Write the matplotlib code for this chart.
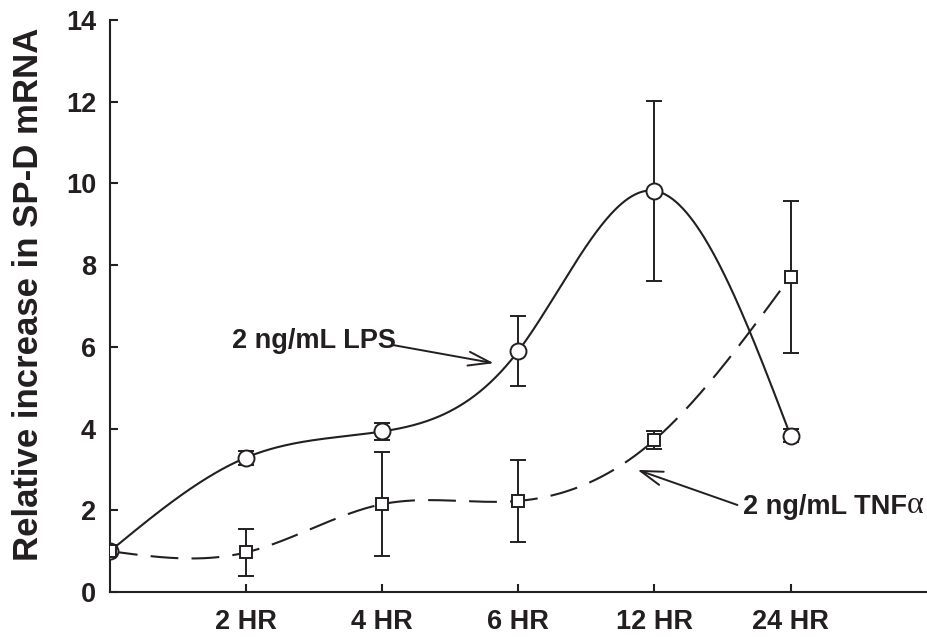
import numpy as np
import matplotlib
matplotlib.use("Agg")
import matplotlib.pyplot as plt

plt.rcParams['font.family'] = ['Liberation Sans', 'DejaVu Sans']
plt.rcParams['lines.scale_dashes'] = False

# ---- data ----
time_labels = ["2 HR", "4 HR", "6 HR", "12 HR", "24 HR"]
x_pos = [0, 1, 2, 3, 4, 5]
lps_mean = [1.0, 3.29, 3.93, 5.90, 9.82, 3.83]
lps_err = [0.0, 0.17, 0.20, 0.86, 2.20, 0.17]
tnf_mean = [1.0, 0.97, 2.15, 2.23, 3.72, 7.72]
tnf_err = [0.0, 0.58, 1.28, 1.00, 0.22, 1.86]

INK = '#231f20'


def natural_spline(x, y, xs):
    x = np.asarray(x, float); y = np.asarray(y, float)
    n = len(x); h = np.diff(x)
    A = np.zeros((n, n)); r = np.zeros(n)
    A[0, 0] = 1; A[-1, -1] = 1
    for i in range(1, n - 1):
        A[i, i - 1] = h[i - 1]
        A[i, i] = 2 * (h[i - 1] + h[i])
        A[i, i + 1] = h[i]
        r[i] = 6 * ((y[i + 1] - y[i]) / h[i] - (y[i] - y[i - 1]) / h[i - 1])
    M = np.linalg.solve(A, r)
    out = np.empty_like(xs)
    for k, xv in enumerate(xs):
        i = min(max(np.searchsorted(x, xv) - 1, 0), n - 2)
        a = x[i + 1] - xv; b = xv - x[i]; hi = h[i]
        out[k] = (M[i] * a ** 3 / (6 * hi) + M[i + 1] * b ** 3 / (6 * hi)
                  + (y[i] / hi - M[i] * hi / 6) * a
                  + (y[i + 1] / hi - M[i + 1] * hi / 6) * b)
    return out


fig = plt.figure(figsize=(9.28, 6.37), dpi=100)
ax = fig.add_axes([0.1185, 0.0706, 0.880, 0.898])

xs = np.linspace(x_pos[0], x_pos[-1], 400)
ax.plot(xs, natural_spline(x_pos, lps_mean, xs), color=INK, lw=1.5, zorder=2)
tl, = ax.plot(xs, natural_spline(x_pos, tnf_mean, xs), color=INK, lw=1.5, zorder=2)
tl.set_dashes((20, 9.5))

for m, e in ((lps_mean, lps_err), (tnf_mean, tnf_err)):
    ax.errorbar(x_pos, m, yerr=e, fmt='none', ecolor=INK, elinewidth=1.4,
                capsize=6, capthick=1.4, zorder=3)

ax.plot(x_pos, lps_mean, 'o', ms=11.5, mfc='white', mec=INK, mew=1.4, zorder=4, ls='none')
ax.plot(x_pos, tnf_mean, 's', ms=8.5, mfc='white', mec=INK, mew=1.4, zorder=4, ls='none')

ax.set_xlim(0, 6)
ax.set_ylim(0, 14)
ax.set_xticks(x_pos[1:])
ax.set_xticklabels(time_labels)
ax.set_yticks(range(0, 15, 2))
for s in ('top', 'right'):
    ax.spines[s].set_visible(False)
for s in ('left', 'bottom'):
    ax.spines[s].set_linewidth(1.5)
    ax.spines[s].set_color(INK)
ax.tick_params(direction='in', length=6, width=1.5, color=INK, labelsize=19.5,
               labelcolor=INK)
ax.tick_params(axis='x', pad=12)
ax.tick_params(axis='y', pad=10)
for lab in ax.get_xticklabels() + ax.get_yticklabels():
    lab.set_fontweight('bold')

ax.set_ylabel("Relative increase in SP-D mRNA", fontsize=25, fontweight='bold', color=INK)
ax.yaxis.set_label_coords(-0.080, 0.52)

ax.text(0.90, 6.14, "2 ng/mL LPS", fontsize=19.5, fontweight='bold', color=INK,
        ha='left', va='center')
ax.annotate("", xy=(2.82, 5.60), xytext=(2.07, 6.05),
            arrowprops=dict(arrowstyle='->,head_length=0.8,head_width=0.25',
                            color=INK, lw=1.4, mutation_scale=20,
                            shrinkA=0, shrinkB=0))

t = ax.text(4.65, 2.08, "2 ng/mL TNF", fontsize=19.5, fontweight='bold', color=INK,
            ha='left', va='center')
ax.annotate("α", xy=(1.0, 0.0), xycoords=t, ha='left', va='bottom',
            fontsize=23, family='Liberation Serif', color=INK)
ax.annotate("", xy=(3.875, 2.99), xytext=(4.61, 2.13),
            arrowprops=dict(arrowstyle='->,head_length=0.8,head_width=0.25',
                            color=INK, lw=1.4, mutation_scale=20,
                            shrinkA=0, shrinkB=0))

fig.savefig("out.png", dpi=100)
